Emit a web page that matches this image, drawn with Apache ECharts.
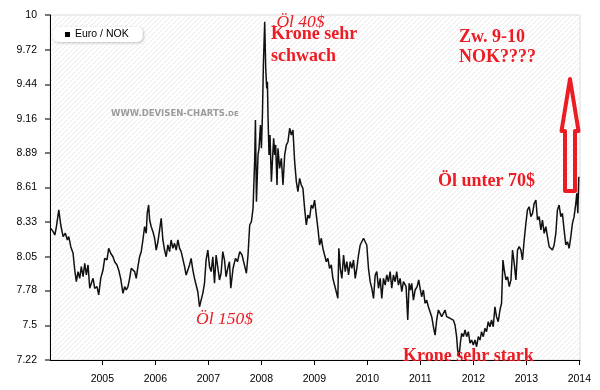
<!DOCTYPE html>
<html>
<head>
<meta charset="utf-8">
<script src="https://cdn.jsdelivr.net/npm/echarts@6/dist/echarts.min.js"></script>
<style>
html,body{margin:0;padding:0;background:#fff;}
#chart{width:600px;height:390px;}
</style>
</head>
<body>
<div id="chart"></div>
<script>
// ---- Data: EUR/NOK, [decimal year, rate] ----
const eurNok2004to2007 = [
[2004.028,8.281],[2004.072,8.254],[2004.104,8.227],[2004.134,8.294],[2004.179,8.429],[2004.216,8.308],[2004.260,8.214],[2004.303,8.241],[2004.341,8.187],[2004.367,8.214],
[2004.405,8.133],[2004.448,8.080],[2004.480,7.945],[2004.510,7.851],[2004.542,7.932],[2004.574,7.878],[2004.604,7.972],[2004.637,7.891],[2004.669,7.999],[2004.699,7.905],
[2004.731,7.986],[2004.763,7.798],[2004.793,7.838],[2004.825,7.878],[2004.857,7.798],[2004.900,7.811],[2004.932,7.744],[2004.970,7.878],[2005.013,7.945],[2005.045,8.039],
[2005.088,8.026],[2005.120,8.120],[2005.158,8.080],[2005.201,8.052],[2005.233,8.012],[2005.277,7.986],[2005.309,7.945],[2005.346,7.878],[2005.390,7.757],[2005.422,7.811],
[2005.452,7.784],[2005.484,7.811],[2005.516,7.878],[2005.546,7.959],[2005.578,7.972],[2005.610,7.932],[2005.640,7.878],[2005.672,7.972],[2005.704,8.052],[2005.734,8.093],
[2005.766,8.187],[2005.798,8.294],[2005.829,8.241],[2005.847,8.402],[2005.874,8.469],[2005.893,8.348],[2005.923,8.294],[2005.955,8.254],[2005.987,8.201],[2006.017,8.106],
[2006.049,8.173],[2006.081,8.268],[2006.111,8.362],[2006.143,8.187],[2006.175,8.106],[2006.205,8.052],[2006.237,8.147],[2006.269,8.093],[2006.299,8.187],[2006.331,8.120],
[2006.363,8.160],[2006.394,8.106],[2006.426,8.187],[2006.458,8.120],[2006.488,8.093],[2006.520,8.106],[2006.552,7.972],[2006.582,7.905],[2006.614,7.945],[2006.646,7.986],
[2006.676,8.039],[2006.708,7.945],[2006.740,7.878],[2006.770,7.824],[2006.802,7.770],[2006.834,7.649],[2006.864,7.703],[2006.896,7.757],[2006.928,7.838],[2006.958,8.026],
[2006.991,8.106],[2007.023,7.972],[2007.053,7.932],[2007.085,8.052],[2007.117,7.838],[2007.147,8.066],[2007.179,8.052],[2007.211,7.865],[2007.241,7.919],[2007.273,8.093],
[2007.305,8.026],[2007.335,7.891],[2007.367,7.959],[2007.399,8.012]
];
const eurNok2007to2010 = [
[2007.424,7.798],[2007.467,7.959],[2007.512,8.039],[2007.550,8.012],[2007.593,8.093],[2007.636,8.066],[2007.674,7.999],[2007.719,7.919],[2007.749,8.066],[2007.781,8.308],
[2007.813,8.334],[2007.844,8.442],[2007.876,8.845],[2007.889,9.154],[2007.908,8.496],[2007.938,8.872],[2007.957,8.926],[2007.983,9.114],[2008.002,8.926],[2008.021,9.194],
[2008.039,9.597],[2008.064,9.946],[2008.083,9.571],[2008.102,9.409],[2008.115,9.463],[2008.126,9.194],[2008.145,8.872],[2008.164,9.033],[2008.190,8.657],[2008.209,8.818],
[2008.233,9.006],[2008.252,8.872],[2008.271,8.953],[2008.296,8.630],[2008.314,8.926],[2008.346,8.764],[2008.378,8.845],[2008.409,8.630],[2008.441,8.872],[2008.473,8.953],
[2008.503,8.979],[2008.535,9.087],[2008.567,9.033],[2008.597,9.073],[2008.629,8.818],[2008.661,8.657],[2008.691,8.576],[2008.723,8.684],[2008.755,8.630],[2008.785,8.603],
[2008.817,8.442],[2008.849,8.308],[2008.879,8.388],[2008.911,8.362],[2008.943,8.469],[2008.973,8.442],[2009.005,8.509],[2009.038,8.388],[2009.068,8.281],[2009.100,8.147],
[2009.132,8.201],[2009.162,8.120],[2009.194,8.066],[2009.226,8.012],[2009.256,8.039],[2009.288,7.959],[2009.320,7.986],[2009.350,7.878],[2009.382,7.824],[2009.414,7.770],
[2009.444,7.717],[2009.463,8.120],[2009.490,7.959],[2009.520,7.878],[2009.552,8.066],[2009.584,7.932],[2009.614,8.012],[2009.646,7.905],[2009.678,8.012],[2009.708,7.959],
[2009.740,8.026],[2009.772,7.878],[2009.802,7.959],[2009.834,8.066],[2009.866,8.147],[2009.896,8.173],[2009.928,8.201],[2009.960,8.214],[2009.990,8.147],[2010.022,7.959],
[2010.054,7.851],[2010.085,7.798],[2010.117,7.717],[2010.149,7.905],[2010.179,7.932],[2010.211,7.798],[2010.243,7.878],[2010.273,7.717],[2010.305,7.878],[2010.337,7.824],
[2010.367,7.905],[2010.399,7.851],[2010.431,7.932],[2010.461,7.798],[2010.493,7.905],[2010.525,7.851],[2010.555,7.932],[2010.587,7.824],[2010.619,7.878],[2010.650,7.770],
[2010.682,7.851]
];
const eurNok2010to2014 = [
[2010.700,7.865],[2010.732,7.811],[2010.763,7.542],[2010.789,7.838],[2010.813,7.784],[2010.838,7.838],[2010.870,7.703],[2010.902,7.784],[2010.940,7.811],[2010.970,7.865],
[2011.002,7.784],[2011.026,7.730],[2011.058,7.784],[2011.090,7.677],[2011.120,7.703],[2011.152,7.649],[2011.184,7.649],[2011.215,7.569],[2011.247,7.488],[2011.279,7.421],
[2011.309,7.542],[2011.341,7.623],[2011.373,7.596],[2011.403,7.569],[2011.435,7.596],[2011.467,7.623],[2011.497,7.569],[2011.529,7.583],[2011.561,7.556],[2011.591,7.569],
[2011.623,7.542],[2011.655,7.502],[2011.685,7.408],[2011.704,7.301],[2011.731,7.247],[2011.755,7.355],[2011.780,7.435],[2011.812,7.408],[2011.844,7.462],[2011.874,7.408],
[2011.906,7.448],[2011.938,7.355],[2011.968,7.381],[2012.000,7.341],[2012.032,7.381],[2012.062,7.327],[2012.094,7.408],[2012.126,7.381],[2012.156,7.448],[2012.188,7.408],
[2012.220,7.475],[2012.250,7.448],[2012.282,7.529],[2012.314,7.488],[2012.344,7.542],[2012.376,7.488],[2012.408,7.649],[2012.438,7.569],[2012.470,7.529],[2012.503,7.623],
[2012.533,7.677],[2012.559,8.026],[2012.584,7.945],[2012.616,7.865],[2012.646,7.891],[2012.678,7.811],[2012.710,7.865],[2012.740,8.106],[2012.772,7.999],[2012.804,7.865],
[2012.834,8.106],[2012.866,8.133],[2012.898,8.106],[2012.928,8.026],[2012.960,8.187],[2012.992,8.321],[2013.022,8.429],[2013.054,8.455],[2013.086,8.375],[2013.117,8.402],
[2013.149,8.482],[2013.181,8.509],[2013.211,8.348],[2013.243,8.375],[2013.275,8.268],[2013.305,8.348],[2013.337,8.241],[2013.369,8.294],[2013.399,8.214],[2013.431,8.133],
[2013.463,8.120],[2013.493,8.106],[2013.525,8.147],[2013.557,8.241],[2013.587,8.429],[2013.619,8.469],[2013.651,8.375],[2013.681,8.402],[2013.713,8.268],[2013.745,8.147],
[2013.776,8.173],[2013.808,8.120],[2013.840,8.214],[2013.870,8.321],[2013.902,8.375],[2013.934,8.482],[2013.953,8.563],[2013.972,8.402],[2013.990,8.697]
];
const yTicks = [7.22, 7.5, 7.78, 8.05, 8.33, 8.61, 8.89, 9.16, 9.44, 9.72, 10];
const xTicks = [2005, 2006, 2007, 2008, 2009, 2010, 2011, 2012, 2013, 2014];
const seriesName = 'Euro / NOK';

const seriesData = eurNok2004to2007.concat(eurNok2007to2010, eurNok2010to2014);

const RED = '#ec1c24';
const serifB = 'bold 18px "Liberation Serif", "Times New Roman", serif';
const serifI = 'italic 17.5px "Liberation Serif", "Times New Roman", serif';

// decorative diagonal hatch inside the plot frame (50..580 x 15..360)
const hatch = [];
(function () {
  const L = 50, R = 580, T = 15, B = 360;
  for (let c = L + T + 2; c < R + B; c += 5) {
    const y1 = Math.min(B, c - L), x1 = c - y1;
    const y2 = Math.max(T, c - R), x2 = c - y2;
    if (x1 > R || y2 > B) continue;
    hatch.push({type: 'line', silent: true, z: -10,
      shape: {x1: x1, y1: y1, x2: x2, y2: y2},
      style: {stroke: '#ebebeb', lineWidth: 1}});
  }
})();

const chart = echarts.init(document.getElementById('chart'), null, {renderer: 'canvas'});
chart.setOption({
  animation: false,
  backgroundColor: '#fff',
  grid: {
    left: 50, right: 20, top: 15, bottom: 30,
    show: true,
    backgroundColor: 'transparent',
    borderColor: '#dcdcdc', borderWidth: 1
  },
  legend: {
    left: 53, top: 27,
    data: [seriesName],
    icon: 'rect', itemWidth: 5, itemHeight: 5,
    padding: [2, 14, 2, 12],
    backgroundColor: '#fff',
    borderRadius: 5,
    shadowBlur: 3, shadowColor: 'rgba(0,0,0,0.25)', shadowOffsetX: 1, shadowOffsetY: 1,
    textStyle: {fontSize: 10.5, fontFamily: '"Liberation Sans", Arial, sans-serif', color: '#000'},
    itemStyle: {color: '#000'}
  },
  xAxis: {
    type: 'value',
    min: 2004.013, max: 2014.013,
    splitLine: {show: false},
    axisLine: {show: true, lineStyle: {color: '#000', width: 1}},
    axisTick: {show: true, customValues: xTicks, length: 5, lineStyle: {color: '#000'}},
    axisLabel: {
      customValues: xTicks,
      margin: 14,
      fontSize: 10.5,
      fontFamily: '"Liberation Sans", Arial, sans-serif',
      color: '#000',
      formatter: v => String(Math.round(v))
    }
  },
  yAxis: {
    type: 'value',
    min: 7.22, max: 10,
    splitLine: {show: false},
    axisLine: {show: true, lineStyle: {color: '#000', width: 1}},
    axisTick: {show: true, customValues: yTicks, length: 5, lineStyle: {color: '#777', width: 2}},
    axisLabel: {
      customValues: yTicks,
      margin: 13,
      fontSize: 10.5,
      fontFamily: '"Liberation Sans", Arial, sans-serif',
      color: '#000',
      formatter: v => String(v)
    }
  },
  series: [{
    name: seriesName,
    type: 'line',
    data: seriesData,
    showSymbol: false,
    symbol: 'none',
    lineStyle: {color: '#111', width: 1.5},
    itemStyle: {color: '#000'},
    z: 5
  }],
  graphic: hatch.concat([
    {type: 'text', z: 100, style: {x: 111, y: 114, text: '{a|WWW.DEVISEN-CHARTS.}{b|DE}', verticalAlign: 'middle',
      rich: {a: {font: 'bold 8.5px "DejaVu Sans", Verdana, sans-serif', fill: '#9c9c9c'}, b: {font: 'bold 7px "DejaVu Sans", Verdana, sans-serif', fill: '#9c9c9c'}}}},
    {type: 'text', z: 100, style: {x: 272, y: 22, text: '.Öl 40$', font: serifI, fill: RED, verticalAlign: 'middle'}},
    {type: 'text', z: 100, style: {x: 271, y: 34, text: 'Krone sehr', font: serifB, fill: RED, verticalAlign: 'middle'}},
    {type: 'text', z: 100, style: {x: 271, y: 56, text: 'schwach', font: serifB, fill: RED, verticalAlign: 'middle'}},
    {type: 'text', z: 100, style: {x: 459, y: 37, text: 'Zw. 9-10', font: serifB, fill: RED, verticalAlign: 'middle'}},
    {type: 'text', z: 100, style: {x: 459, y: 57, text: 'NOK????', font: serifB, fill: RED, verticalAlign: 'middle'}},
    {type: 'text', z: 100, style: {x: 438, y: 181, text: 'Öl unter 70$', font: serifB, fill: RED, verticalAlign: 'middle'}},
    {type: 'text', z: 100, style: {x: 196, y: 319, text: 'Öl 150$', font: serifI, fill: RED, verticalAlign: 'middle'}},
    {type: 'text', z: 100, style: {x: 403, y: 356, text: 'Krone sehr stark', font: serifB, fill: RED, verticalAlign: 'middle'}},
    {type: 'polygon', z: 100, shape: {points: [[570,79],[578.5,131],[575,131],[575,191],[565,191],[565,131],[561.5,131]]},
      style: {fill: 'none', stroke: RED, lineWidth: 4, lineJoin: 'round'}}
  ])
});
</script>
</body>
</html>
